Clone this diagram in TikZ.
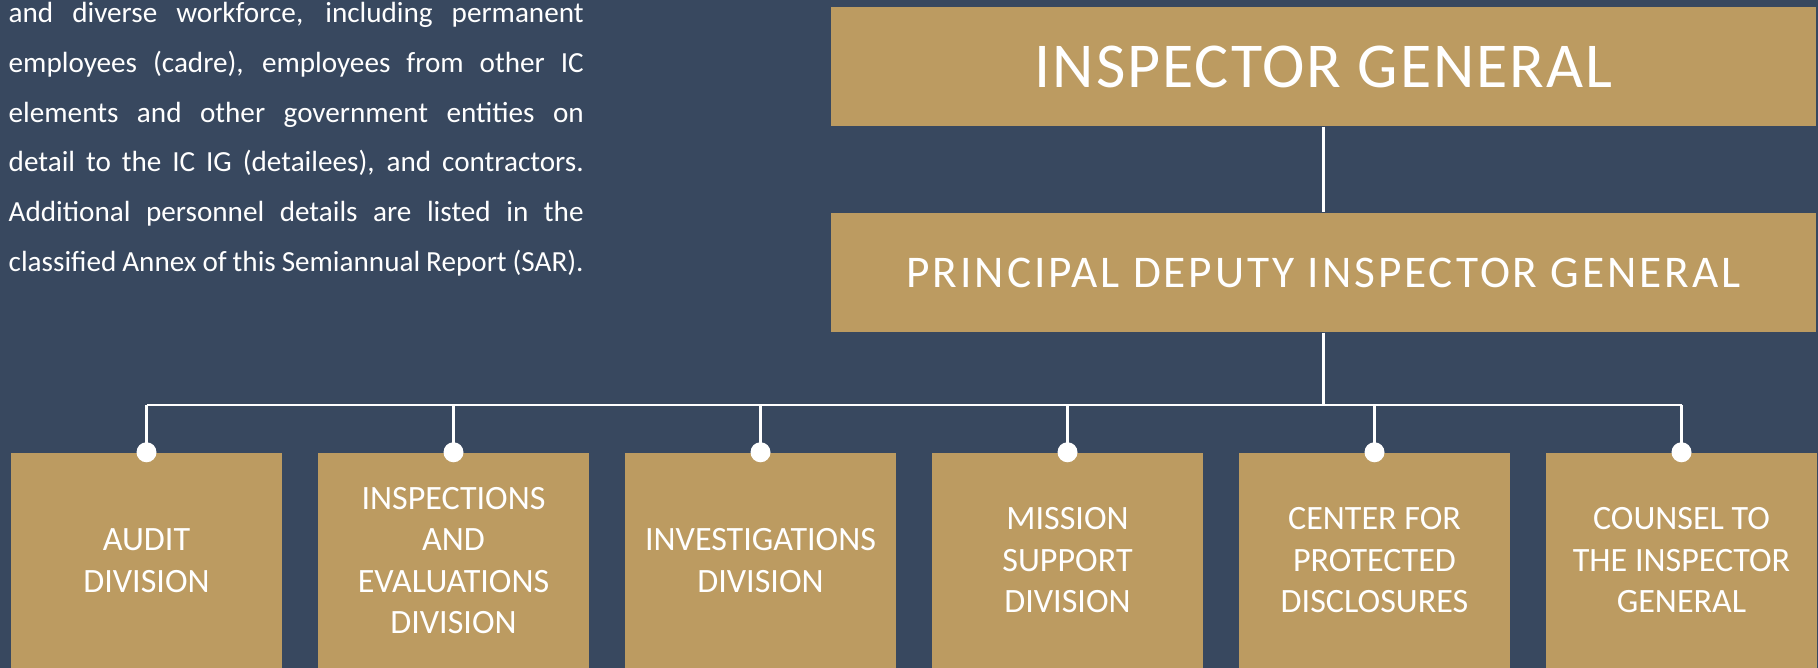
\documentclass[tikz,border=0pt]{standalone}
\usepackage{fontspec}
\setmainfont{Carlito}
\usepackage{tikz}

\definecolor{slate}{HTML}{38485F}
\definecolor{gold}{HTML}{BC9B61}

\begin{document}
\begin{tikzpicture}[node distance=3.07cm,
  head node/.style={fill=gold,text=white,minimum width=9.85cm,minimum height=1.19cm,inner sep=0pt},
  unit node/.style={fill=gold,text=white,minimum width=2.71cm,minimum height=2.15cm,inner sep=0pt,align=center,font=\fontsize{9.7}{11.8}\selectfont},
  link/.style={draw=white,line width=0.6pt}]
\useasboundingbox (0,0) rectangle (18.18,6.68);
\fill[slate] (0,0) rectangle (18.18,6.68);

% staff note on the left
\node[anchor=north west,inner sep=0pt,text width=5.75cm,align=justify,text=white,
  font=\fontsize{8.3}{14.2}\selectfont] (note) at (0.08,6.667)
{and diverse workforce, including permanent\linebreak
employees (cadre), employees from other IC\linebreak
elements and other government entities on\linebreak
detail to the IC IG (detailees), and contractors.\linebreak
Additional personnel details are listed in the\linebreak
classified Annex of this Semiannual Report (SAR).\parfillskip=0pt\par};

% heads
\node[head node,font=\fontsize{18.2}{22}\selectfont\addfontfeature{LetterSpace=3}] (ig) at (13.235,6.015) {INSPECTOR GENERAL};
\node[head node,font=\fontsize{12.9}{16}\selectfont\addfontfeature{LetterSpace=6.5}] (pdig) at (13.235,3.955) {PRINCIPAL DEPUTY INSPECTOR GENERAL};

% divisions
\node[unit node] (d1) at (1.465,1.075) {AUDIT\\DIVISION};
\node[unit node, right of=d1] (d2) {INSPECTIONS\\AND\\EVALUATIONS\\DIVISION};
\node[unit node, right of=d2] (d3) {INVESTIGATIONS\\DIVISION};
\node[unit node, right of=d3] (d4) {MISSION\\SUPPORT\\DIVISION};
\node[unit node, right of=d4] (d5) {CENTER FOR\\PROTECTED\\DISCLOSURES};
\node[unit node, right of=d5] (d6) {COUNSEL TO\\THE INSPECTOR\\GENERAL};

\coordinate (bus) at (0,2.63);

\path[link] (ig) -- (pdig);
\path[link] (pdig.south) -- (pdig.south |- bus);
\path[link] (d1.north |- bus) -- (d6.north |- bus);
\foreach \d in {d1,d2,d3,d4,d5,d6}{
  \path[link] (\d.north |- bus) -- (\d.north);
  \fill[white] (\d.north) circle (0.1);
}
\end{tikzpicture}
\end{document}
